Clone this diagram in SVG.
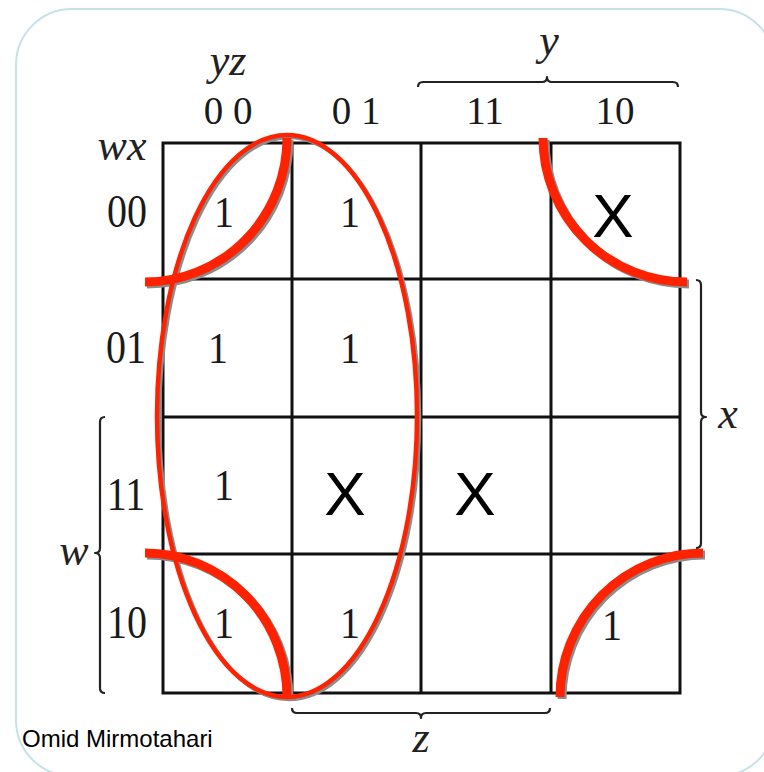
<svg xmlns="http://www.w3.org/2000/svg" width="764" height="772" viewBox="0 0 764 772">
<defs>
<style>
.frame{fill:#fff;stroke:#c4e2e8;stroke-width:2}
.grid{fill:none;stroke:#111;stroke-width:3}
.brace{fill:none;stroke:#222;stroke-width:2.2;stroke-linejoin:round}
.var{font-family:"Liberation Serif",serif;font-style:italic;font-size:44px;fill:#222;text-anchor:middle}
.lbl{font-family:"Liberation Serif",serif;font-size:39px;fill:#1a1a1a;text-anchor:middle}
.rlbl{font-family:"Liberation Serif",serif;font-size:40px;fill:#1a1a1a;text-anchor:middle}
.one{font-family:"Liberation Serif",serif;font-size:40px;fill:#1a1a1a;text-anchor:middle}
.dc{font-family:"Liberation Sans",Arial,sans-serif;font-size:62px;fill:#000;text-anchor:middle}
.sig{font-family:"Liberation Sans",Arial,sans-serif;font-size:24px;fill:#000}
.shadow{fill:none;stroke:#8c8c8c}
.red{fill:none;stroke:#ff2200}
.thick{stroke-width:9}
.thin{stroke-width:4.5}
</style>
</defs>
<rect class="frame" x="16" y="9" width="759" height="767" rx="56" ry="56"/>

<g id="map-grid">
<rect class="grid" x="163" y="143" width="517" height="550"/>
<line class="grid" x1="292" y1="143" x2="292" y2="693"/>
<line class="grid" x1="421" y1="143" x2="421" y2="693"/>
<line class="grid" x1="551" y1="143" x2="551" y2="693"/>
<line class="grid" x1="163" y1="279" x2="680" y2="279"/>
<line class="grid" x1="163" y1="417" x2="680" y2="417"/>
<line class="grid" x1="163" y1="554" x2="680" y2="554"/>
</g>

<g id="axis-labels">
<text class="var" x="228" y="75">yz</text>
<text class="var" x="122" y="160">wx</text>
<text class="var" x="549" y="55">y</text>
<text class="var" x="728" y="428">x</text>
<text class="var" x="74" y="565">w</text>
<text class="var" x="421" y="752">z</text>
<text class="lbl" x="228" y="124">0 0</text>
<text class="lbl" x="356" y="124">0 1</text>
<text class="lbl" x="485" y="124">11</text>
<text class="lbl" x="615" y="124">10</text>
<text class="rlbl" transform="translate(127,227) scale(1,1.15)">00</text>
<text class="rlbl" transform="translate(126,363) scale(1,1.15)">01</text>
<text class="rlbl" transform="translate(126,510) scale(1,1.15)">11</text>
<text class="rlbl" transform="translate(127,638) scale(1,1.15)">10</text>
</g>

<g id="braces">
<path class="brace" d="M418,87 Q418,82 423,82 L542,82 Q547,82 547,77 Q547,82 552,82 L673,82 Q678,82 678,87"/>
<path class="brace" d="M696,280 Q701,280 701,285 L701,412 Q701,417 706,417 Q701,417 701,422 L701,543 Q701,548 696,548"/>
<path class="brace" d="M105,417 Q100,417 100,422 L100,548 Q100,553 95,553 Q100,553 100,558 L100,688 Q100,693 105,693"/>
<path class="brace" d="M292,708 Q292,713 297,713 L416,713 Q421,713 421,718 Q421,713 426,713 L545,713 Q550,713 550,708"/>
</g>

<g id="cells">
<text class="one" transform="translate(224,227) scale(1,1.12)">1</text>
<text class="one" transform="translate(350,227) scale(1,1.12)">1</text>
<text class="dc" x="613" y="237">X</text>
<text class="one" transform="translate(218,363) scale(1,1.12)">1</text>
<text class="one" transform="translate(350,363) scale(1,1.12)">1</text>
<text class="one" transform="translate(224,500) scale(1,1.12)">1</text>
<text class="dc" x="345" y="515">X</text>
<text class="dc" x="475" y="515">X</text>
<text class="one" transform="translate(224,638) scale(1,1.12)">1</text>
<text class="one" transform="translate(350,638) scale(1,1.12)">1</text>
<text class="one" transform="translate(612,640) scale(1,1.12)">1</text>
</g>

<g id="groupings">
<g transform="translate(2,2)">
<ellipse class="shadow thin" cx="287" cy="416" rx="130" ry="281"/>
<path class="shadow thick" d="M145,282 A142,144 0 0 0 287,138"/>
<path class="shadow thick" d="M543,138 A144,144 0 0 0 687,282"/>
<path class="shadow thick" d="M145,553 A142,144 0 0 1 287,697"/>
<path class="shadow thick" d="M703,553 A143,144 0 0 0 560,697"/>
</g>
<ellipse class="red thin" cx="287" cy="416" rx="130" ry="281"/>
<path class="red thick" d="M145,282 A142,144 0 0 0 287,138"/>
<path class="red thick" d="M543,138 A144,144 0 0 0 687,282"/>
<path class="red thick" d="M145,553 A142,144 0 0 1 287,697"/>
<path class="red thick" d="M703,553 A143,144 0 0 0 560,697"/>
</g>

<text class="sig" x="22" y="747">Omid Mirmotahari</text>
</svg>
